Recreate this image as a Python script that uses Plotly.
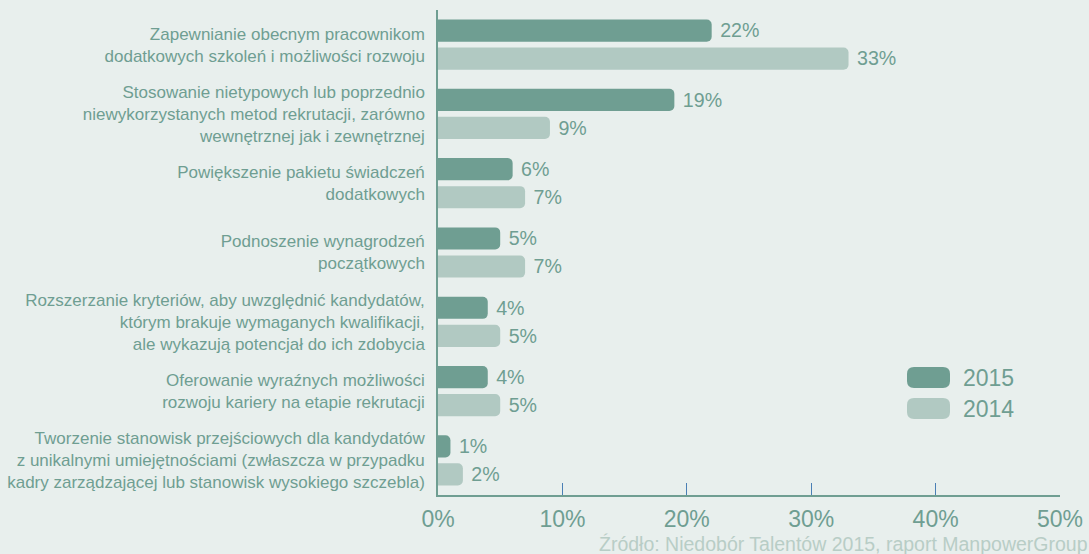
import plotly.graph_objects as go

categories = [
    "Zapewnianie obecnym pracownikom<br>dodatkowych szkoleń i możliwości rozwoju",
    "Stosowanie nietypowych lub poprzednio<br>niewykorzystanych metod rekrutacji, zarówno<br>wewnętrznej jak i zewnętrznej",
    "Powiększenie pakietu świadczeń<br>dodatkowych",
    "Podnoszenie wynagrodzeń<br>początkowych",
    "Rozszerzanie kryteriów, aby uwzględnić kandydatów,<br>którym brakuje wymaganych kwalifikacji,<br>ale wykazują potencjał do ich zdobycia",
    "Oferowanie wyraźnych możliwości<br>rozwoju kariery na etapie rekrutacji",
    "Tworzenie stanowisk przejściowych dla kandydatów<br>z unikalnymi umiejętnościami (zwłaszcza w przypadku<br>kadry zarządzającej lub stanowisk wysokiego szczebla)",
]
values_2015 = [22, 19, 6, 5, 4, 4, 1]
values_2014 = [33, 9, 7, 7, 5, 5, 2]
series_names = ["2015", "2014"]
tick_vals = [0, 10, 20, 30, 40, 50]
tick_text = ["0%", "10%", "20%", "30%", "40%", "50%"]
source_text = "Źródło: Niedobór Talentów 2015, raport ManpowerGroup"

DARK = "#6f9e92"
LIGHT = "#b1c9c2"
BG = "#e8efed"
TEXT = "#6f9e92"
FONT = "Liberation Sans, Arial, sans-serif"

W, H = 1089, 554
ML, MR, MT, MB = 438, 29, 10, 59
PW = W - ML - MR
PH = H - MT - MB

fig = go.Figure()
for name, vals, col in [(series_names[0], values_2015, DARK), (series_names[1], values_2014, LIGHT)]:
    fig.add_trace(go.Bar(
        y=categories, x=vals, orientation="h", name=name,
        marker=dict(color=col, line=dict(width=0)),
        text=[f"\u00a0{v}%" for v in vals], textposition="outside",
        textfont=dict(size=23, color=TEXT, family=FONT),
        cliponaxis=False, showlegend=False, hoverinfo="skip",
    ))

fig.update_layout(
    width=W, height=H,
    margin=dict(l=ML, r=MR, t=MT, b=MB),
    paper_bgcolor=BG, plot_bgcolor=BG,
    barmode="group", bargap=0.19, bargroupgap=0.21,
    barcornerradius=5,
    font=dict(family=FONT, color=TEXT),
    xaxis=dict(
        range=[0, 50], tickvals=tick_vals, ticktext=tick_text,
        showgrid=False, zeroline=False, automargin=False,
        showline=True, linecolor=DARK, linewidth=1.5,
        ticks="inside", ticklen=12, tickcolor="#4a7fb5", tickwidth=1,
        tickfont=dict(size=23, color=TEXT, family=FONT),
        ticklabelstandoff=3,
    ),
    yaxis=dict(
        autorange="reversed", showgrid=False, zeroline=False, automargin=False,
        showline=True, linecolor=DARK, linewidth=1.5,
        ticks="", tickfont=dict(size=17, color=TEXT, family=FONT),
        ticklabelstandoff=8,
    ),
)

# legend drawn as rounded pills with labels
shapes = []
legend_items = [(series_names[0], DARK, 367), (series_names[1], LIGHT, 398)]
for name, col, ytop in legend_items:
    xa = (907 - ML) / PW
    ya = 1 - (ytop - MT) / PH
    w, h, r = 43, 21, 7
    p = (f"M {r} 0 L {w-r} 0 Q {w} 0 {w} {-r} L {w} {-(h-r)} Q {w} {-h} {w-r} {-h} "
         f"L {r} {-h} Q 0 {-h} 0 {-(h-r)} L 0 {-r} Q 0 0 {r} 0 Z")
    shapes.append(dict(type="path", xref="paper", yref="paper",
                       xsizemode="pixel", ysizemode="pixel", xanchor=xa, yanchor=ya,
                       path=p, fillcolor=col, line=dict(width=0)))
    fig.add_annotation(x=(961 - ML) / PW, y=1 - (ytop + 10.5 - MT) / PH,
                       xref="paper", yref="paper", text=name, showarrow=False,
                       xanchor="left", yanchor="middle",
                       font=dict(size=23, color=TEXT, family=FONT))
fig.update_layout(shapes=shapes)

fig.add_annotation(x=(W + 1 - ML) / PW, y=1 - (544 - MT) / PH,
                   xref="paper", yref="paper", xanchor="right", yanchor="middle",
                   text=source_text, showarrow=False,
                   font=dict(size=19.5, color="#b8cdc6", family=FONT))

fig.write_html("out.html", config={"displayModeBar": False},
               post_script="document.body.style.margin='0';document.body.style.overflow='hidden';")
